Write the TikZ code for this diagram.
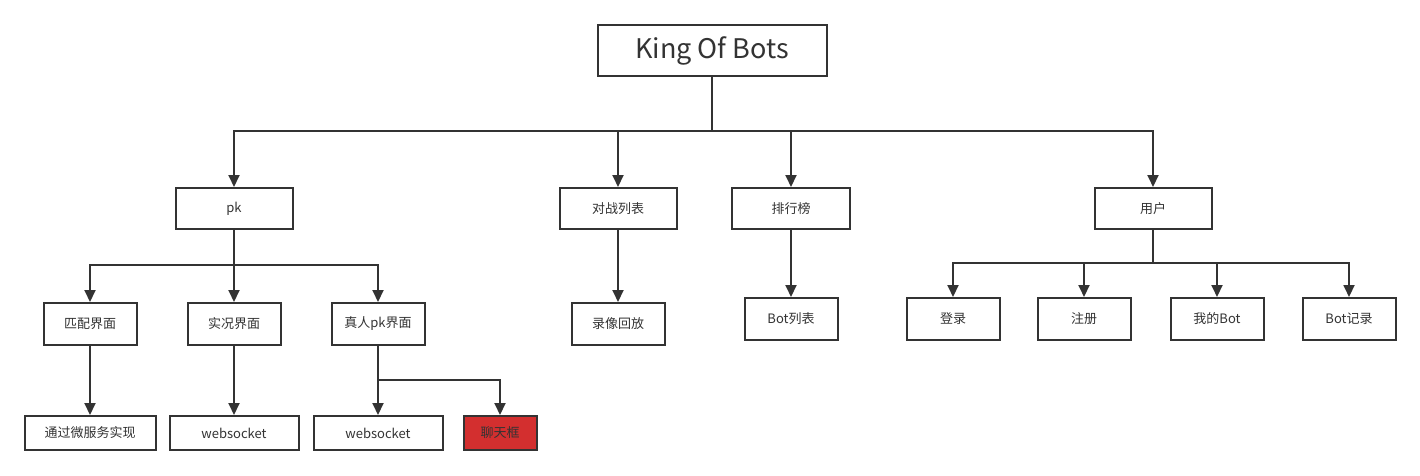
\documentclass[tikz,border=0pt]{standalone}
\usepackage{fontspec}
\setmainfont{Noto Sans CJK SC}
\usetikzlibrary{arrows.meta,positioning}

\definecolor{linec}{HTML}{333333}
\definecolor{chatred}{HTML}{D32F2F}

\tikzset{
  box/.style={draw=linec,line width=2pt,fill=white,text=linec,
    font=\fontsize{13}{15}\selectfont,inner sep=0pt,
    minimum width=93pt,minimum height=42pt},
  link/.style={draw=linec,line width=1.9pt},
  arrow/.style={link,-{Triangle[length=12pt,width=11pt]}}
}

\begin{document}
\begin{tikzpicture}[x=1pt,y=-1pt]
\useasboundingbox (0,0) rectangle (1420,475);

% root
\node[box,minimum width=229pt,minimum height=51pt,
  font=\fontsize{27}{30}\selectfont] (kob) at (712,50.5) {King Of Bots};

% second level
\node[box,minimum width=117pt,minimum height=41pt] (pk) at (234,208.5) {pk};
\node[box,minimum width=117pt,minimum height=41pt] (battles) at (618,208.5) {对战列表};
\node[box,minimum width=118pt,minimum height=41pt] (rank) at (791,208.5) {排行榜};
\node[box,minimum width=117pt,minimum height=41pt] (user) at (1153,208.5) {用户};

% third level
\node[box] (match) at (90,324) {匹配界面};
\node[box] (live) at (234,324) {实况界面};
\node[box] (human) at (378,324) {真人pk界面};
\node[box] (replay) at (618,324) {录像回放};
\node[box] (botlist) at (791,319) {Bot列表};
\node[box] (login) at (953,319) {登录};
\node[box] (register) at (1084,319) {注册};
\node[box] (mybot) at (1217,319) {我的Bot};
\node[box] (botrec) at (1349,319) {Bot记录};

% bottom
\node[box,minimum width=131pt,minimum height=34pt] (micro) at (90,433) {通过微服务实现};
\node[box,minimum width=129pt,minimum height=34pt] (ws1) at (234,433) {websocket};
\node[box,minimum width=129pt,minimum height=34pt] (ws2) at (378,433) {websocket};
\node[box,minimum width=73pt,minimum height=34pt,fill=chatred] (chat) at (500,433) {聊天框};

% buses
\coordinate (kob-bus) at (712,131);
\coordinate (pk-bus) at (234,265);
\coordinate (user-bus) at (1153,263);
\coordinate (human-bus) at (378,380);

\draw[link] (kob) -- (kob-bus);
\draw[arrow] (kob-bus) -| (pk);
\draw[arrow] (kob-bus) -| (battles);
\draw[arrow] (kob-bus) -| (rank);
\draw[arrow] (kob-bus) -| (user);

\draw[link] (pk) -- (pk-bus);
\draw[arrow] (pk-bus) -| (match);
\draw[arrow] (pk-bus) -- (live);
\draw[arrow] (pk-bus) -| (human);

\draw[arrow] (battles) -- (replay);
\draw[arrow] (rank) -- (botlist);

\draw[link] (user) -- (user-bus);
\draw[arrow] (user-bus) -| (login);
\draw[arrow] (user-bus) -| (register);
\draw[arrow] (user-bus) -| (mybot);
\draw[arrow] (user-bus) -| (botrec);

\draw[arrow] (match) -- (micro);
\draw[arrow] (live) -- (ws1);
\draw[link] (human) -- (human-bus);
\draw[arrow] (human-bus) -- (ws2);
\draw[arrow] (human-bus) -| (chat);
\end{tikzpicture}
\end{document}
